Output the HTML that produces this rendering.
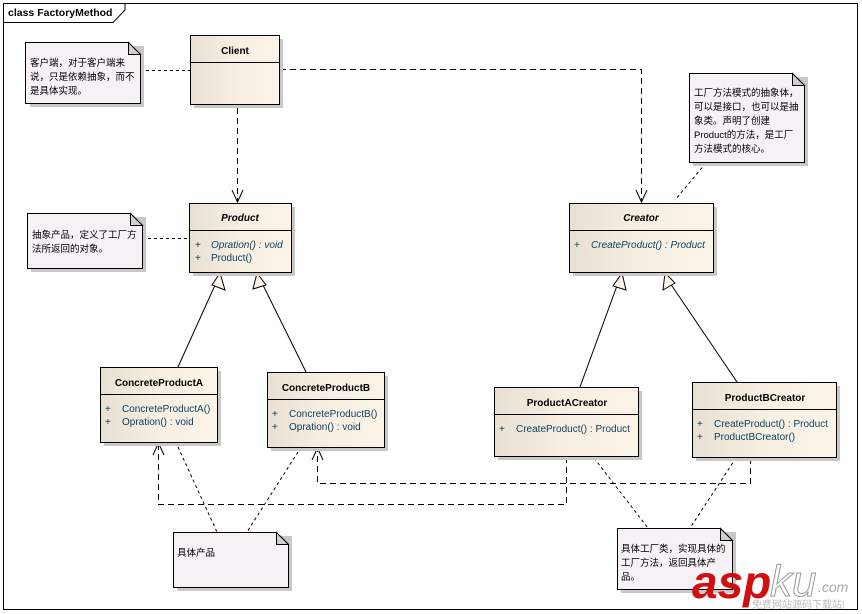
<!DOCTYPE html>
<html><head><meta charset="utf-8"><style>
html,body{margin:0;padding:0;background:#fff;}
svg{display:block;}
text{font-family:"Liberation Sans","Noto Sans CJK SC",sans-serif;font-size:10px;fill:#000;}
.b{font-weight:bold;}
.m{fill:#0b3f5e;}
.i{font-style:italic;}
.cn{font-family:"Liberation Sans","Noto Sans CJK SC",sans-serif;font-size:9.5px;}
</style></head><body>
<svg width="862" height="614" viewBox="0 0 862 614" xmlns="http://www.w3.org/2000/svg">
<defs>
<linearGradient id="g" x1="0" x2="1" y1="0" y2="0">
<stop offset="0" stop-color="#e8e0d2"/><stop offset="0.5" stop-color="#f7efe2"/><stop offset="1" stop-color="#fbf3e6"/>
</linearGradient>
</defs>
<rect x="3.5" y="3.5" width="854" height="606" fill="#fff" stroke="#000"/>
<path d="M3.5,22.5 H113 L125,10 V3.5" fill="none" stroke="#000"/>
<text x="8" y="16" class="b" style="font-size:10.5px">class FactoryMethod</text>

<!-- connectors -->
<g fill="none" stroke="#000" stroke-width="1">
<path d="M237.5,108 V201" stroke-dasharray="6,4"/>
<path d="M280,69.5 H641.5 V201" stroke-dasharray="6,4"/>
<path d="M566.5,457 V504.5 H158.5 V444" stroke-dasharray="6,4"/>
<path d="M750.5,458 V483.5 H317.5 V449" stroke-dasharray="6,4"/>
<path d="M232,190 L237.5,202 L243,190"/>
<path d="M636,190 L641.5,202 L647,190"/>
<path d="M153,455 L158.5,443 L164,455"/>
<path d="M312,460 L317.5,448 L323,460"/>
<g stroke-dasharray="3,3">
<path d="M140,70.5 H190"/>
<path d="M142,238.5 H189"/>
<path d="M706,163 L675,200"/>
<path d="M178,447 L217,532"/>
<path d="M298,452 L247,532"/>
<path d="M594,458 L648,528"/>
<path d="M736,458 L690,528"/>
</g>
<path d="M178,367 L216,283"/>
<path d="M306,372 L262,283"/>
<path d="M580,387 L618,283"/>
<path d="M737,382 L670,283"/>
</g>
<g fill="#fbf6ee" stroke="#000">
<path d="M220,273 L212,285 L225,290 Z"/>
<path d="M257,273 L253,289 L266,285 Z"/>
<path d="M622,273 L613,286 L626,290 Z"/>
<path d="M665,273 L663,290 L675,283 Z"/>
</g>

<!-- classes -->
<g stroke="#000" stroke-width="1">
<g fill="#c8c8c8" stroke="none">
<rect x="194" y="39" width="89" height="69"/>
<rect x="193" y="207" width="102" height="69"/>
<rect x="573" y="207" width="144" height="69"/>
<rect x="104" y="371" width="117" height="75"/>
<rect x="271" y="376" width="117" height="75"/>
<rect x="498" y="391" width="144" height="69"/>
<rect x="696" y="386" width="144" height="75"/>
<rect x="30" y="46" width="114" height="61"/>
<rect x="31" y="217" width="115" height="55"/>
<rect x="693" y="77" width="115" height="89"/>
<rect x="177" y="536" width="115" height="55"/>
<rect x="621" y="532" width="115" height="61"/>
</g>
<rect x="190.5" y="35.5" width="89" height="69" fill="url(#g)"/><path d="M190.5,62.5 H279.5"/>
<rect x="189.5" y="203.5" width="102" height="69" fill="url(#g)"/><path d="M189.5,230.5 H291.5"/>
<rect x="569.5" y="203.5" width="144" height="69" fill="url(#g)"/><path d="M569.5,230.5 H713.5"/>
<rect x="100.5" y="367.5" width="117" height="75" fill="url(#g)"/><path d="M100.5,394.5 H217.5"/>
<rect x="267.5" y="372.5" width="117" height="75" fill="url(#g)"/><path d="M267.5,399.5 H384.5"/>
<rect x="494.5" y="387.5" width="144" height="69" fill="url(#g)"/><path d="M494.5,414.5 H638.5"/>
<rect x="692.5" y="382.5" width="144" height="75" fill="url(#g)"/><path d="M692.5,409.5 H836.5"/>
<g fill="#f5f1f5">
<path d="M25.5,42.5 H128.5 L140.5,54.5 V103.5 H25.5 Z"/>
<path d="M27.5,213.5 H130.5 L142.5,225.5 V268.5 H27.5 Z"/>
<path d="M689.5,73.5 H792.5 L804.5,85.5 V162.5 H689.5 Z"/>
<path d="M173.5,532.5 H276.5 L288.5,544.5 V587.5 H173.5 Z"/>
<path d="M617.5,528.5 H720.5 L732.5,540.5 V589.5 H617.5 Z"/>
</g>
<g fill="#d0d0d0">
<path d="M128.5,42.5 V54.5 H140.5 Z"/>
<path d="M130.5,213.5 V225.5 H142.5 Z"/>
<path d="M792.5,73.5 V85.5 H804.5 Z"/>
<path d="M276.5,532.5 V544.5 H288.5 Z"/>
<path d="M720.5,528.5 V540.5 H732.5 Z"/>
</g>
</g>

<text x="235" y="54" class="b" text-anchor="middle">Client</text>
<text x="240" y="221" class="b i" text-anchor="middle">Product</text>
<text x="195" y="248" class="m">+</text><text x="211" y="248" class="m i">Opration() : void</text>
<text x="195" y="261" class="m">+</text><text x="211" y="261" class="m">Product()</text>
<text x="641" y="221" class="b i" text-anchor="middle">Creator</text>
<text x="574" y="248" class="m">+</text><text x="591" y="248" class="m i">CreateProduct() : Product</text>
<text x="159" y="386" class="b" text-anchor="middle">ConcreteProductA</text>
<text x="105" y="412" class="m">+</text><text x="122" y="412" class="m">ConcreteProductA()</text>
<text x="105" y="425" class="m">+</text><text x="122" y="425" class="m">Opration() : void</text>
<text x="326" y="391" class="b" text-anchor="middle">ConcreteProductB</text>
<text x="272" y="417" class="m">+</text><text x="289" y="417" class="m">ConcreteProductB()</text>
<text x="272" y="430" class="m">+</text><text x="289" y="430" class="m">Opration() : void</text>
<text x="567" y="406" class="b" text-anchor="middle">ProductACreator</text>
<text x="499" y="432" class="m">+</text><text x="516" y="432" class="m">CreateProduct() : Product</text>
<text x="765" y="401" class="b" text-anchor="middle">ProductBCreator</text>
<text x="697" y="427" class="m">+</text><text x="714" y="427" class="m">CreateProduct() : Product</text>
<text x="697" y="440" class="m">+</text><text x="714" y="440" class="m">ProductBCreator()</text>

<text class="cn" x="30" y="66">客户端，对于客户端来</text>
<text class="cn" x="30" y="80">说，只是依赖抽象，而不</text>
<text class="cn" x="30" y="94">是具体实现。</text>
<text class="cn" x="32" y="238">抽象产品，定义了工厂方</text>
<text class="cn" x="32" y="252">法所返回的对象。</text>
<text class="cn" x="694" y="96">工厂方法模式的抽象体，</text>
<text class="cn" x="694" y="110">可以是接口，也可以是抽</text>
<text class="cn" x="694" y="124">象类。声明了创建</text>
<text class="cn" x="694" y="138">Product的方法，是工厂</text>
<text class="cn" x="694" y="152">方法模式的核心。</text>
<text class="cn" x="177" y="556">具体产品</text>
<text class="cn" x="621" y="552">具体工厂类，实现具体的</text>
<text class="cn" x="621" y="566">工厂方法，返回具体产</text>
<text class="cn" x="621" y="580">品。</text>

<text x="692" y="598" style="font-size:46px;font-weight:bold;font-style:italic;fill:#d01010">asp</text>
<text x="770" y="596" style="font-size:44px;font-style:italic;fill:#fff;stroke:#999;stroke-width:1">ku</text>
<text x="818" y="592" style="font-size:14px;font-style:italic;fill:#aaa">.com</text>
<text x="752" y="608" style="font-size:10px;fill:#bbb">免费网站源码下载站!</text>
</svg>
</body></html>
